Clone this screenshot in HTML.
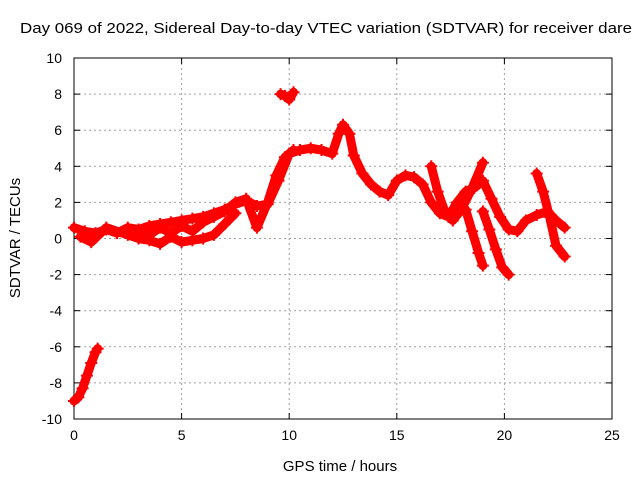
<!DOCTYPE html>
<html><head><meta charset="utf-8"><style>
body{margin:0;background:#fff}
svg{display:block;font-family:"Liberation Sans",sans-serif}
</style></head><body>
<svg id="chart" width="640" height="480">
<text x="20" y="33" font-size="15" textLength="612" lengthAdjust="spacingAndGlyphs">Day 069 of 2022, Sidereal Day-to-day VTEC variation (SDTVAR) for receiver dare</text>
<g id="grid"></g>
<g id="axes"></g>
<g id="series"></g>
<text x="340" y="471" font-size="15" text-anchor="middle">GPS time / hours</text>
<text transform="translate(20,238) rotate(-90)" font-size="15" text-anchor="middle">SDTVAR / TECUs</text>
</svg>
<script>
const xTicks=[0,5,10,15,20,25];
const yTicks=[-10,-8,-6,-4,-2,0,2,4,6,8,10];
const trackMainT=[0,0.5,1,1.5,2,2.5,3,3.5,4,4.5,5,5.5,6,6.5,7,7.5,8,8.5,9,9.5,10,10.5,11,11.5,12,12.3,12.5,12.8,13,13.4,13.8,14.2,14.6,15,15.4,15.8,16.2,16.6,17,17.4,17.8,18.2,18.6,19,19.4,19.8,20.2,20.6,21,21.5,22,22.4,22.8];
const trackMainV=[0.6,0.4,0.3,0.5,0.3,0.6,0.5,0.7,0.8,0.9,1.0,1.1,1.2,1.4,1.6,1.9,2.1,1.8,1.9,3.2,4.7,4.9,5.0,4.9,4.7,5.8,6.3,5.8,4.6,3.6,3.0,2.6,2.4,3.2,3.5,3.4,3.0,2.0,1.4,1.2,2.0,2.6,2.8,3.2,2.2,1.2,0.5,0.4,1.0,1.3,1.5,1.0,0.6];
const trackLowT=[0.3,0.8,1.5,2.5,3,3.5,4,4.5,5,5.5,6,6.5,7,7.5];
const trackLowV=[0.1,-0.2,0.6,0.2,0.0,-0.1,-0.3,0.1,-0.2,-0.1,0.0,0.2,0.8,1.4];
const trackMidT=[3,3.5,4,4.5,5,5.5,6,6.5,7,7.5,8,8.5,9,9.4,9.8,10.2];
const trackMidV=[0.4,0.2,0.6,0.3,0.7,0.4,0.9,1.2,1.5,2.0,2.2,0.6,2.0,3.5,4.5,4.9];
const trackNegT=[0,0.2,0.4,0.6,0.8,1.0,1.1];
const trackNegV=[-9.0,-8.8,-8.3,-7.6,-6.9,-6.3,-6.1];
const trackSpikeT=[9.6,9.8,10.0,10.2];
const trackSpikeV=[8.0,7.9,7.7,8.1];
const trackDrop1T=[18.2,18.5,18.8,19.0];
const trackDrop1V=[1.6,0.4,-0.8,-1.5];
const trackDrop2T=[19.0,19.3,19.6,19.9,20.2];
const trackDrop2V=[1.5,0.5,-0.6,-1.6,-2.0];
const trackDrop3T=[21.5,21.8,22.1,22.4,22.8];
const trackDrop3V=[3.6,2.6,1.2,-0.4,-1.0];
const trackBranchT=[16.6,16.9,17.2,17.6,18.0,18.5,19.0];
const trackBranchV=[4.0,2.6,1.6,1.0,1.6,2.8,4.2];
const tracks=[[trackMainT,trackMainV],[trackLowT,trackLowV],[trackMidT,trackMidV],[trackNegT,trackNegV],[trackSpikeT,trackSpikeV],[trackDrop1T,trackDrop1V],[trackDrop2T,trackDrop2V],[trackDrop3T,trackDrop3V],[trackBranchT,trackBranchV]];
const L=74,R=612,T=58,B=419;
const X=h=>L+(h-0)/25*(R-L);
const Y=v=>B-(v+10)/20*(B-T);
const NS="http://www.w3.org/2000/svg";
function mk(tag,attrs,parent){const e=document.createElementNS(NS,tag);for(const k in attrs)e.setAttribute(k,attrs[k]);parent.appendChild(e);return e;}
const grid=document.getElementById('grid'),axes=document.getElementById('axes'),ser=document.getElementById('series');
xTicks.forEach(t=>{
 if(t>0&&t<25){const g=mk('line',{x1:X(t),x2:X(t),y1:T,y2:B,stroke:'#a0a0a0','stroke-dasharray':'2,3'},grid);
 
 }
 const tl=mk('text',{x:X(t),y:B+21,'font-size':14,'text-anchor':'middle'},axes);tl.textContent=t;
 
 
 mk('line',{x1:X(t),x2:X(t),y1:B,y2:B-6,stroke:'#000'},axes);
 mk('line',{x1:X(t),x2:X(t),y1:T,y2:T+6,stroke:'#000'},axes);
});
yTicks.forEach(t=>{
 if(t>-10&&t<10){const g=mk('line',{x1:L,x2:R,y1:Y(t),y2:Y(t),stroke:'#a0a0a0','stroke-dasharray':'2,3'},grid);
 
 }
 const tl=mk('text',{x:L-12,y:Y(t)+5,'font-size':14,'text-anchor':'end'},axes);tl.textContent=t;
 
 
 mk('line',{x1:L,x2:L+6,y1:Y(t),y2:Y(t),stroke:'#000'},axes);
 mk('line',{x1:R,x2:R-6,y1:Y(t),y2:Y(t),stroke:'#000'},axes);
});
const fr=mk('rect',{x:L,y:T,width:R-L,height:B-T,fill:'none',stroke:'#000'},axes);


tracks.forEach(([ts,vs])=>{
 const pts=ts.map((t,i)=>X(t)+','+Y(vs[i])).join(' ');
 const pl=mk('polyline',{points:pts,fill:'none',stroke:'#ff0000','stroke-width':9,'stroke-linejoin':'round','stroke-linecap':'round'},ser);
 
 
 ts.forEach((t,i)=>{const x=X(t),y=Y(vs[i]);
  const p=mk('path',{d:`M${x-6},${y}H${x+6}M${x},${y-6}V${y+6}`,stroke:'#ff0000','stroke-width':2},ser);
  
  
 });
});
</script>
</body></html>
